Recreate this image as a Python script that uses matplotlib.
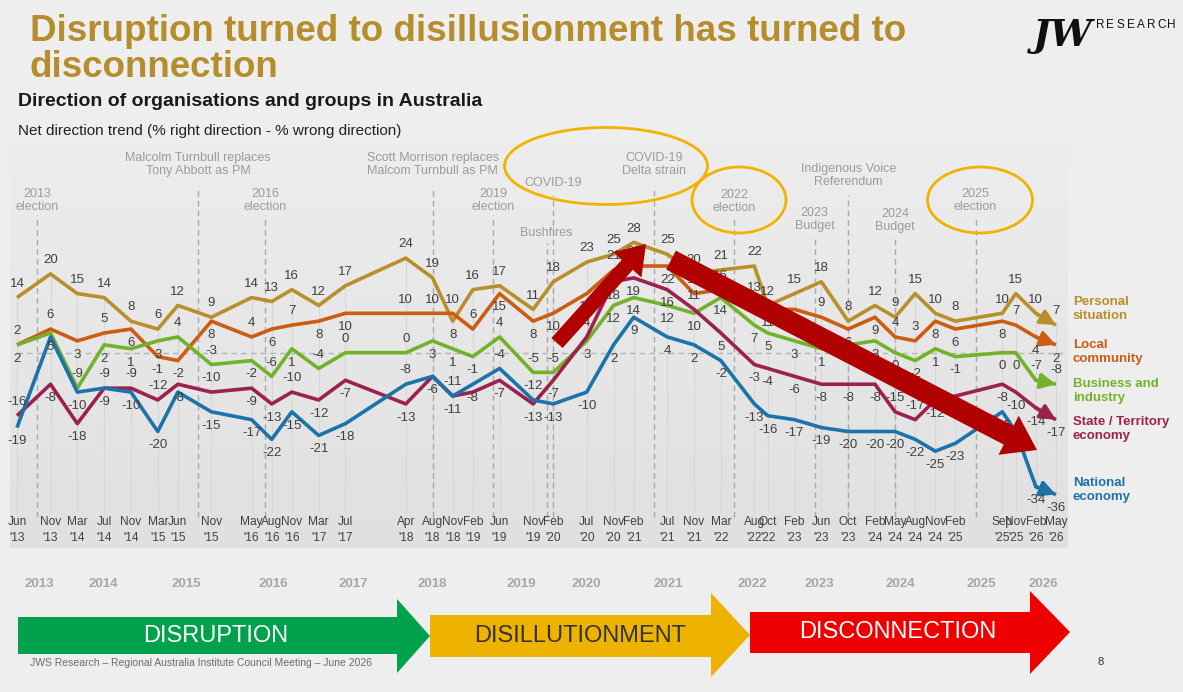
import numpy as np
import matplotlib.pyplot as plt
from matplotlib.patches import Ellipse, Polygon, FancyArrow
from matplotlib.colors import LinearSegmentedColormap

plt.rcParams['font.family'] = ['Liberation Sans', 'DejaVu Sans']

# survey waves (x axis)
waves = ["Jun '13", "Nov '13", "Mar '14", "Jul '14", "Nov '14", "Mar '15", "Jun '15", "Nov '15",
         "May '16", "Aug '16", "Nov '16", "Mar '17", "Jul '17", "Apr '18", "Aug '18", "Nov '18",
         "Feb '19", "Jun '19", "Nov '19", "Feb '20", "Jul '20", "Nov '20", "Feb '21", "Jul '21",
         "Nov '21", "Mar '22", "Aug '22", "Oct '22", "Feb '23", "Jun '23", "Oct '23", "Feb '24",
         "May '24", "Aug '24", "Nov '24", "Feb '25", "Sep '25", "Nov '25", "Feb '26", "May '26"]

# net direction (% right - % wrong)
personal = [14, 20, 15, 14, 8, 6, 12, 9, 14, 13, 16, 12, 17, 24, 19, 8, 16, 17, 11, 18,
            23, 25, 28, 25, 20, 21, 22, 12, 15, 18, 8, 12, 9, 15, 10, 8, 10, 15, 10, 7]
local = [2, 6, 3, 5, 6, -1, -2, 8, 4, 6, 7, 8, 10, 10, 10, 10, 6, 15, 8, 10,
         15, 21, 22, 22, 15, 16, 13, 11, 11, 9, 6, 9, 4, 3, 8, 6, 8, 7, 4, 2]
business = [2, 5, -9, 2, 1, 3, 4, -3, -2, -6, 1, -4, 0, 0, 3, 1, -1, 4, -5, -5,
            3, 12, 14, 12, 10, 14, 7, 5, 3, 1, 2, 3, 0, -2, 1, -1, 0, 0, -7, -8]
state = [-16, -8, -18, -9, -9, -12, -8, -10, -9, -13, -10, -12, -7, -13, -6, -11, -10, -7, -13, -7,
         4, 18, 19, 16, 11, 5, -3, -4, -6, -8, -8, -8, -15, -17, -12, -11, -8, -10, -14, -17]
national = [-19, 4, -10, -9, -10, -20, -10, -15, -17, -22, -15, -21, -18, -8, -6, -11, -8, -4, -12, -13,
            -10, 2, 9, 4, 2, -2, -13, -16, -17, -19, -20, -20, -20, -22, -25, -23, -15, -20, -34, -36]

series_names = ["Personal\nsituation", "Local\ncommunity", "Business and\nindustry",
                "State / Territory\neconomy", "National\neconomy"]
colors = ["#B88F2C", "#CB5C12", "#72B22A", "#9C2150", "#1B73AA"]

events = ["2013\nelection", "Malcolm Turnbull replaces\nTony Abbott as PM", "2016\nelection",
          "Scott Morrison replaces\nMalcom Turnbull as PM", "2019\nelection", "Bushfires", "COVID-19",
          "COVID-19\nDelta strain", "2022\nelection", "2023\nBudget", "Indigenous Voice\nReferendum",
          "2024\nBudget", "2025\nelection"]
event_dates = ["Sep '13", "Sep '15", "Jul '16", "Aug '18", "May '19", "Jan '20", "Feb '20",
               "May '21", "May '22", "May '23", "Oct '23", "May '24", "May '25"]

years = ["2013", "2014", "2015", "2016", "2017", "2018", "2019", "2020", "2021",
         "2022", "2023", "2024", "2025", "2026"]
phases = ["DISRUPTION", "DISILLUTIONMENT", "DISCONNECTION"]

MONTHS = {m: i + 1 for i, m in enumerate(["Jan", "Feb", "Mar", "Apr", "May", "Jun",
                                           "Jul", "Aug", "Sep", "Oct", "Nov", "Dec"])}


def month_index(s):
    mon, yr = s.split()
    return (2000 + int(yr.strip("'")) - 2013) * 12 + MONTHS[mon] - 6


x = np.array([month_index(w) for w in waves])
vals = np.array([personal, local, business, state, national])

# ---- layout (pixels) ----
W, H = 1183, 692
X0, PXM = 17, 6.703          # pixel of first wave, pixels per month
Y0, PXU = 352.7, 3.94         # pixel of zero line, pixels per unit


def yv(py):
    return (Y0 - py) / PXU


def xm(px):
    return (px - X0) / PXM


fig = plt.figure(figsize=(W / 100, H / 100), dpi=100, facecolor="#EEEEEE")
ax = fig.add_axes([10 / W, (H - 548) / H, 1058 / W, 408 / H])
xl, yl = (xm(10), xm(1068)), (yv(548), yv(140))
ax.set_xlim(*xl)
ax.set_ylim(*yl)
ax.axis("off")

# plot area background
cmap = LinearSegmentedColormap.from_list("bg", ["#EDEDED", "#E0E0E0"])
ax.imshow(np.linspace(0, 1, 100).reshape(-1, 1), extent=[xl[0], xl[1], yl[0], yl[1]],
          aspect="auto", cmap=cmap, origin="upper", zorder=0)

# drop lines at each wave
for j, xi in enumerate(x):
    ax.plot([xi, xi], [yv(512), vals[:, j].max()], color="#D6D6D6", lw=0.8, zorder=1)

# zero line
ax.plot([x[0], x[-1] + 1], [0, 0], color="#B4B4B4", lw=1, ls=(0, (4, 3)), zorder=1)

# event markers
event_text_y = [200.5, 164.5, 200.5, 164.5, 200.5, 233, 183, 164.5, 201.5, 219.5, 175.5, 220.5, 200.5]
event_line_top = [215, 186, 215, 186, 215, 243, 195, 186, 218, 237, 195, 238, 218]
for lab, d, ty, lt in zip(events, event_dates, event_text_y, event_line_top):
    m = month_index(d)
    ax.plot([m, m], [yv(517), yv(lt)], color="#A8A8A8", lw=1, ls=(0, (4, 3)), zorder=1)
    ax.text(m, yv(ty), lab, ha="center", va="center", color="#9B9B9B", fontsize=9,
            linespacing=1.2, zorder=2)

# series lines with arrow heads at the end
for v, c in zip(vals, colors):
    ax.plot(x, v, color=c, lw=2.6, zorder=3, solid_capstyle="butt")
    ax.annotate("", xy=(x[-1], v[-1]), xytext=(x[-2], v[-2]),
                arrowprops=dict(arrowstyle="-|>,head_length=0.9,head_width=0.45",
                                color=c, lw=2.6, shrinkA=0, shrinkB=0, mutation_scale=10),
                zorder=3)

# data labels: put each label on the side with more room, skip if no room at all
OFF, MINSEP = 3.5, 2.7
for j, xi in enumerate(x):
    col = vals[:, j]
    placed = []
    for i in np.argsort(-col, kind="stable"):
        v = col[i]
        others = np.delete(col, i)
        up = others[others > v]
        dn = others[others < v]
        gap_up = (up - v).min() if len(up) else np.inf
        gap_dn = (v - dn).min() if len(dn) else np.inf
        side = 1 if gap_up > gap_dn else -1
        pos = None
        for s in (side, -side):
            ty = v + s * OFF
            if all(abs(ty - p) >= MINSEP for p in placed):
                pos = ty
                break
        if pos is None:
            continue
        placed.append(pos)
        ax.text(xi, pos, str(v), ha="center", va="center", fontsize=9.5,
                color="#3F3F3F", zorder=4)

# x tick labels
for xi, w in zip(x, waves):
    ax.text(xi, yv(530), w.replace(" ", "\n"), ha="center", va="center", fontsize=8.6,
            color="#404040", linespacing=1.35, clip_on=False, zorder=4)

# series names on the right
name_y = [309, 352, 391, 429, 490]
for nm, c, ny in zip(series_names, colors, name_y):
    ax.text(xm(1073), yv(ny), nm, ha="left", va="center", fontsize=9.5, fontweight="bold",
            color=c, linespacing=1.15, clip_on=False)

# ---- overlay for slide decorations ----
ov = fig.add_axes([0, 0, 1, 1], zorder=5)
ov.set_xlim(0, W)
ov.set_ylim(H, 0)
ov.axis("off")
ov.patch.set_alpha(0)

gold = "#B68D2C"
ov.text(30, 41, "Disruption turned to disillusionment has turned to", fontsize=26.5,
        fontweight="bold", color=gold, va="baseline")
ov.text(30, 77, "disconnection", fontsize=26.5, fontweight="bold", color=gold, va="baseline")
ov.text(18, 106, "Direction of organisations and groups in Australia", fontsize=14,
        fontweight="bold", color="#1A1A1A", va="baseline")
ov.text(18, 135, "Net direction trend (% right direction - % wrong direction)", fontsize=11,
        color="#222222", va="baseline")

# logo
ov.text(1063, 35, "JW", ha="center", va="center", fontsize=27, fontweight="bold",
        fontstyle="italic", family="DejaVu Serif", color="#111111")
for k, ch in enumerate("RESEARCH"):
    ov.text(1100 + k * 10.2, 25, ch, ha="center", va="center", fontsize=8.5, color="#111111")

# highlight ellipses
for (cx, cy, ew, eh) in [(606, 166, 203, 77), (739, 200, 94, 66), (980, 200, 105, 66)]:
    ov.add_patch(Ellipse((cx, cy), ew, eh, fill=False, ec="#F2B300", lw=2))

# trend arrows
ov.add_patch(FancyArrow(557, 343, 89, -99, width=15, head_width=38, head_length=28,
                        length_includes_head=True, color="#B00000", lw=0))
ov.add_patch(FancyArrow(671, 260, 366, 190, width=21, head_width=44, head_length=32,
                        length_includes_head=True, color="#B00000", lw=0))

# year row
year_px = [39, 103, 186, 273, 353, 432, 521, 586, 668, 752, 819, 900, 981, 1043]
for yr, px in zip(years, year_px):
    ov.text(px, 584, yr, ha="center", va="center", fontsize=9.5, fontweight="bold",
            color="#A6A6A6")

# phase banner arrows
banner = [
    ([(18, 617), (397, 617), (397, 599), (430, 636), (397, 673), (397, 654), (18, 654)], "#00A14B"),
    ([(430, 615), (711, 615), (711, 593), (750, 635), (711, 677), (711, 657), (430, 657)], "#EEB200"),
    ([(750, 612), (1030, 612), (1030, 591), (1070, 632), (1030, 674), (1030, 653), (750, 653)], "#EE0000"),
]
for pts, c in banner:
    ov.add_patch(Polygon(pts, closed=True, color=c, lw=0))
phase_pos = [(216, 636, "white"), (580, 636, "#333333"), (898, 632, "white")]
for ph, (px, py, c) in zip(phases, phase_pos):
    ov.text(px, py, ph, ha="center", va="center", fontsize=17, color=c)

ov.text(30, 663, "JWS Research \u2013 Regional Australia Institute Council Meeting \u2013 June 2026",
        fontsize=7.5, color="#6B6B6B", va="center")
ov.text(1101, 662, "8", fontsize=8, color="#333333", va="center", ha="center")

fig.savefig("out.png", dpi=100, facecolor=fig.get_facecolor())
